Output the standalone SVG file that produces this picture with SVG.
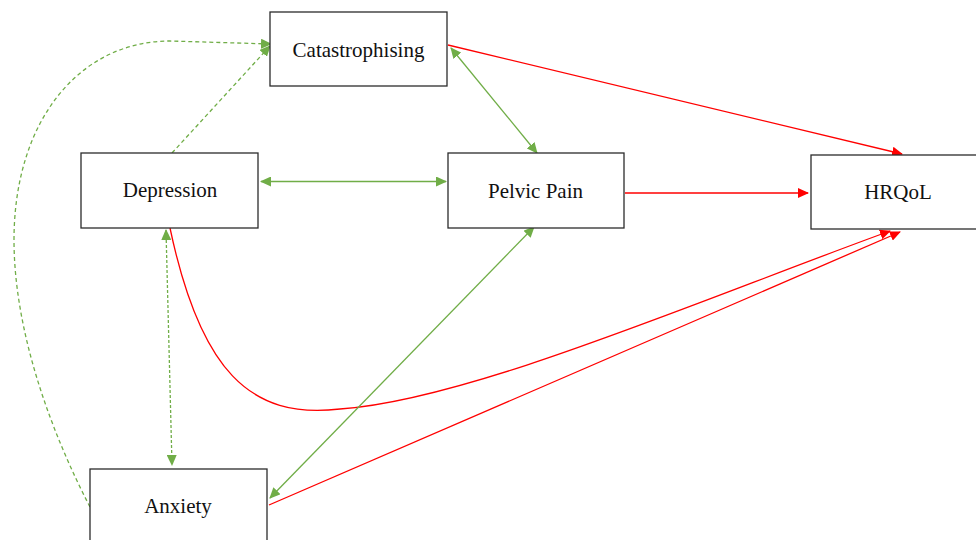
<svg xmlns="http://www.w3.org/2000/svg" width="976" height="540" viewBox="0 0 976 540">
<style>
.box{fill:#fff;stroke:#2b2b2b;stroke-width:1.3}
.lbl{font-family:"Liberation Serif","Times New Roman",serif;font-size:21px;fill:#111;text-anchor:middle}
.g{fill:none;stroke:#70AD47;stroke-width:1.3}
.r{fill:none;stroke:#FF0000;stroke-width:1.3}
.dash{stroke-dasharray:4 3}
.dot{stroke-dasharray:3 2}
</style>
<defs>
<marker id="ag" markerWidth="11" markerHeight="10" refX="10" refY="5" orient="auto-start-reverse" markerUnits="userSpaceOnUse"><path d="M0,0 L11,5 L0,10 Z" fill="#70AD47"/></marker>
<marker id="ar" markerWidth="11" markerHeight="10" refX="10" refY="5" orient="auto-start-reverse" markerUnits="userSpaceOnUse"><path d="M0,0 L11,5 L0,10 Z" fill="#FF0000"/></marker>
</defs>
<rect width="976" height="540" fill="#fff"/>
<g id="connectors">
<path class="r" d="M448,45 L902,154" marker-end="url(#ar)"/>
<path class="g" d="M451,48 L537,153" marker-start="url(#ag)" marker-end="url(#ag)"/>
<path class="g" d="M261,181.5 L446,181.5" marker-start="url(#ag)" marker-end="url(#ag)"/>
<path class="r" d="M625,193 L808,193" marker-end="url(#ar)"/>
<path class="g dash" d="M172,153 L270,46" marker-end="url(#ag)"/>
<path class="g dash" d="M90,507 C50,430 14,330 14,240 C14,120 80,41 170,41 L271,44" marker-end="url(#ag)"/>
<path class="g dot" d="M166,230 L172,465" marker-start="url(#ag)" marker-end="url(#ag)"/>
<path class="r" d="M170,228 C200,370 250,420 340,409 C470,400 700,300 890,231" marker-end="url(#ar)"/>
<path class="g" d="M270,498 L534,227" marker-start="url(#ag)" marker-end="url(#ag)"/>
<path class="r" d="M269,505 L900,232" marker-end="url(#ar)"/>
</g>
<g id="catastrophising"><rect class="box" x="270" y="12" width="177" height="74"/><text class="lbl" x="358.5" y="57">Catastrophising</text></g>
<g id="depression"><rect class="box" x="81" y="153" width="177" height="75"/><text class="lbl" x="170" y="197">Depression</text></g>
<g id="pelvic-pain"><rect class="box" x="448" y="153" width="176" height="75"/><text class="lbl" x="535.5" y="198">Pelvic Pain</text></g>
<g id="hrqol"><rect class="box" x="811" y="155" width="175" height="74"/><text class="lbl" x="898" y="199">HRQoL</text></g>
<g id="anxiety"><rect class="box" x="90" y="469" width="177" height="80"/><text class="lbl" x="178" y="513">Anxiety</text></g>
</svg>
